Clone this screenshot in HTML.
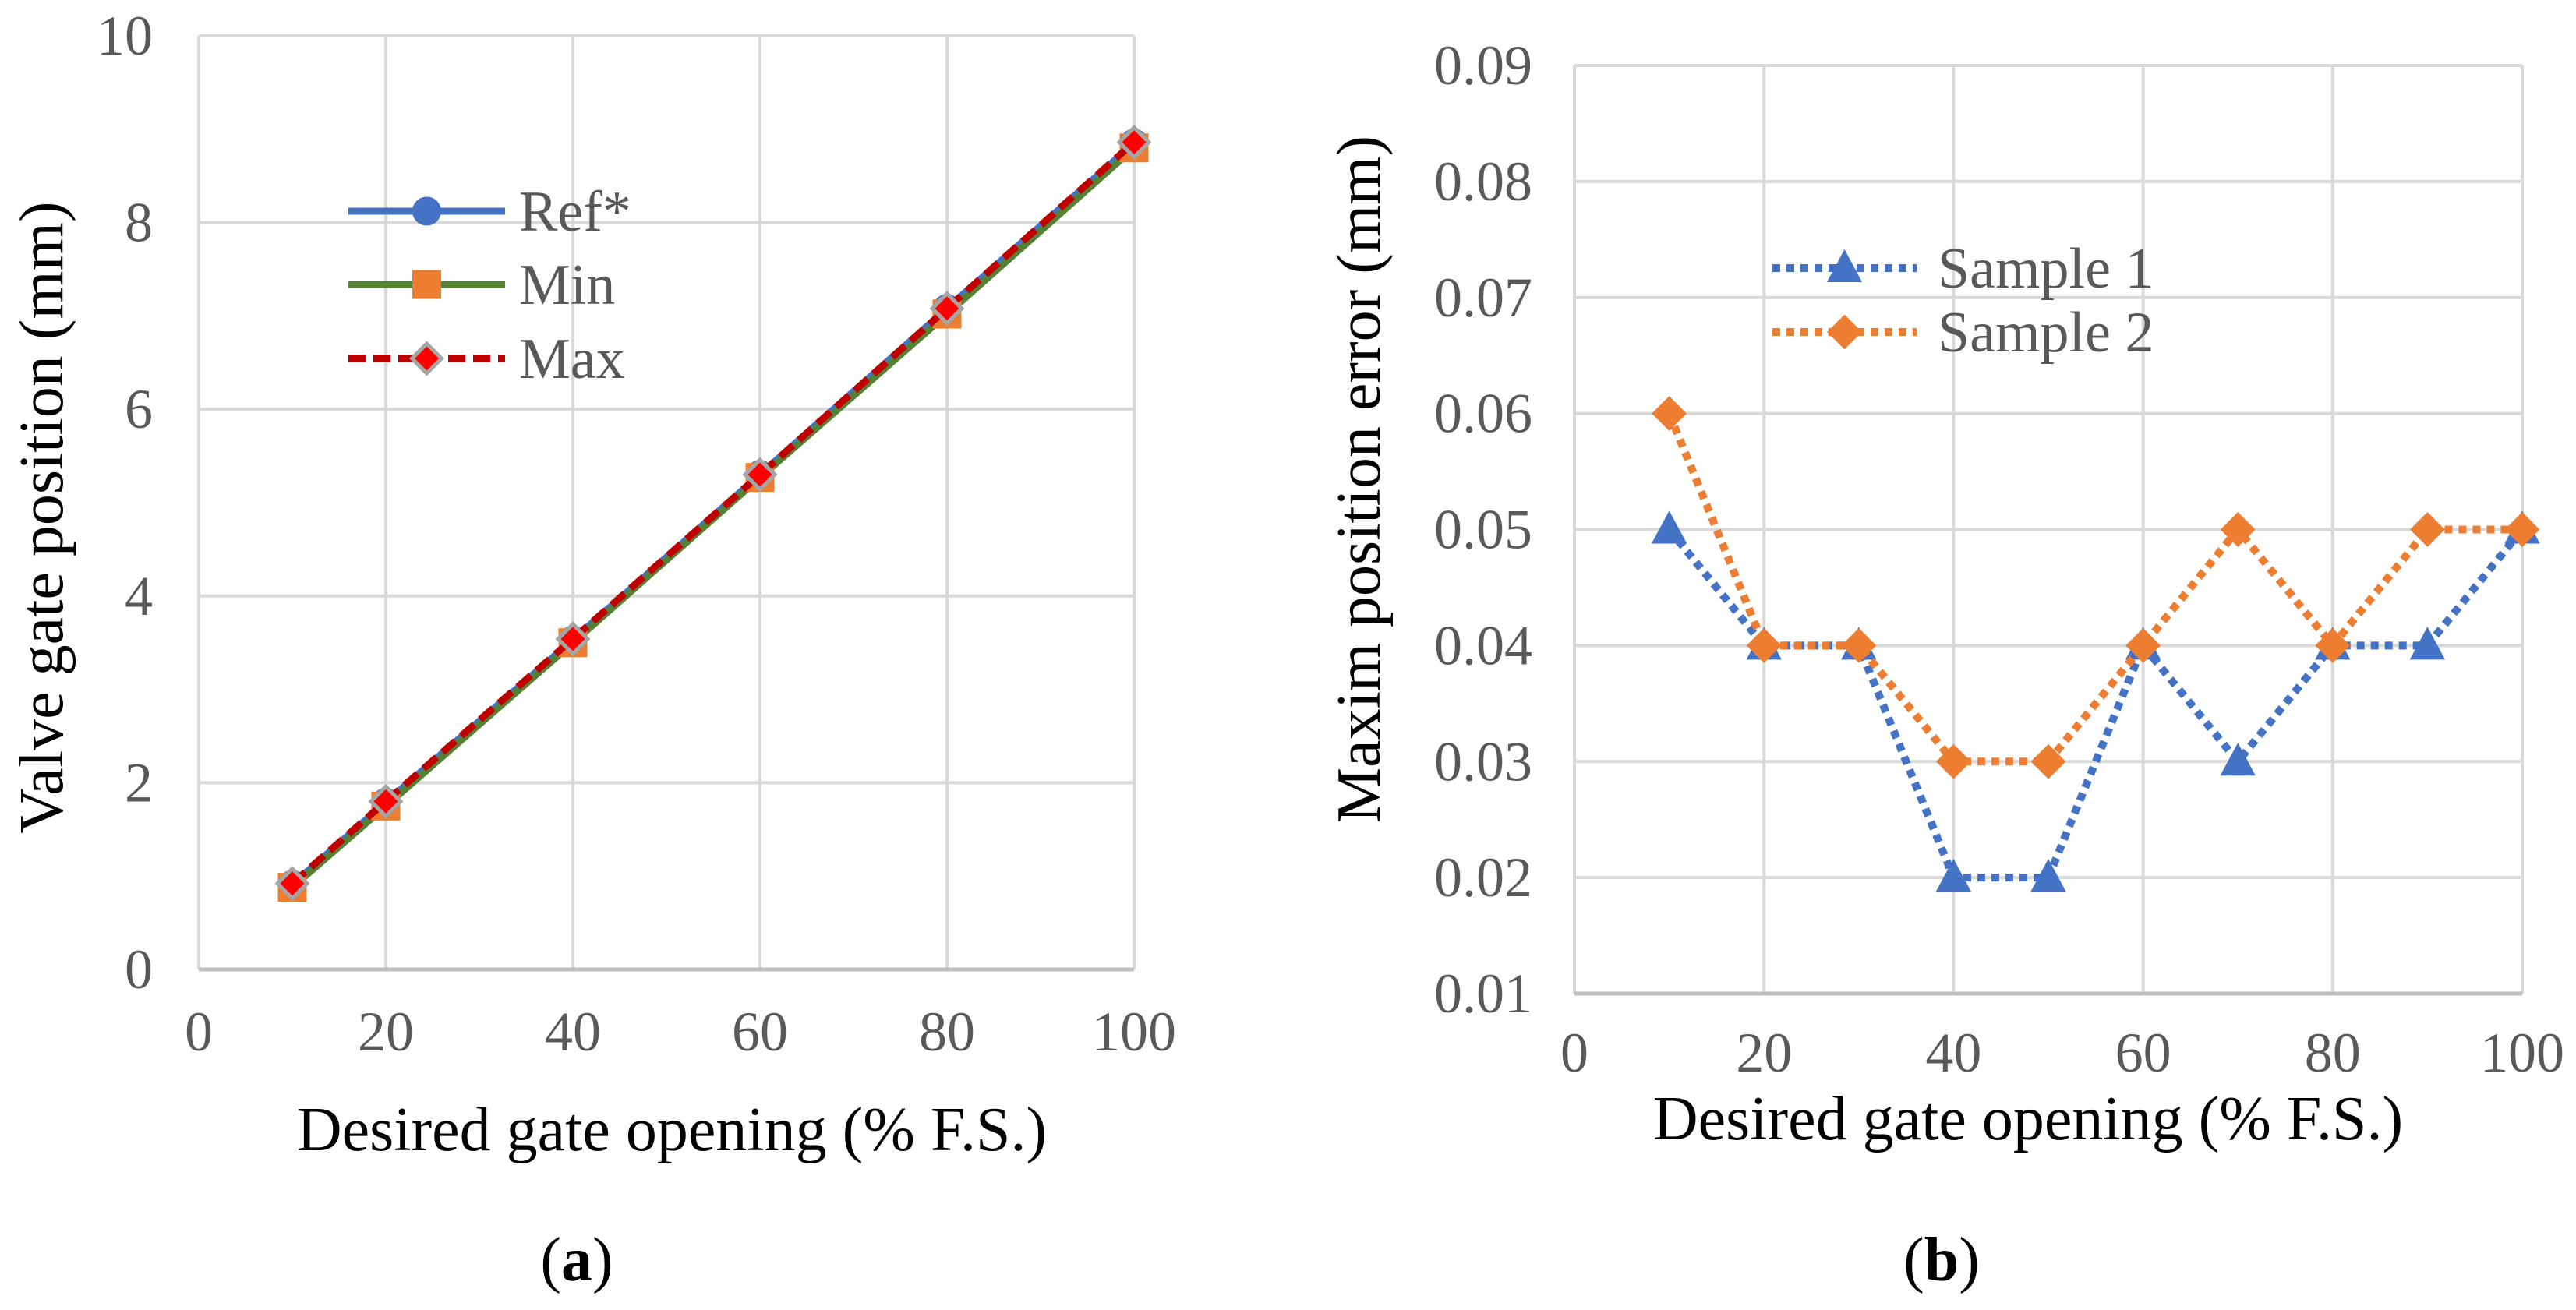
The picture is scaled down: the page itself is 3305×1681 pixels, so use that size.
<!DOCTYPE html>
<html><head><meta charset="utf-8"><style>
body{margin:0;background:#fff;}
svg{display:block;font-family:"Liberation Serif",serif;}
</style></head><body>
<svg id="s" width="3305" height="1681" viewBox="0 0 3305 1681"></svg>
<script>
const xA=[10,20,40,60,80,100];
const refA=[0.91,1.79,3.53,5.3,7.08,8.85];
const minA=[0.88,1.75,3.5,5.27,7.02,8.8];
const maxA=[0.92,1.8,3.54,5.3,7.08,8.86];
const xTicksA=[0,20,40,60,80,100];
const yTicksA=[0,2,4,6,8,10];
const xB=[10,20,30,40,50,60,70,80,90,100];
const s1B=[0.05,0.04,0.04,0.02,0.02,0.04,0.03,0.04,0.04,0.05];
const s2B=[0.06,0.04,0.04,0.03,0.03,0.04,0.05,0.04,0.05,0.05];
const xTicksB=[0,20,40,60,80,100];
const yTicksB=[0.01,0.02,0.03,0.04,0.05,0.06,0.07,0.08,0.09];

const NS='http://www.w3.org/2000/svg';
const svg=document.getElementById('s');
function el(t,a,p){const e=document.createElementNS(NS,t);for(const k in a)e.setAttribute(k,a[k]);(p||svg).appendChild(e);return e;}
function txt(s,a,p){a['font-family']='Liberation Serif, serif';const e=el('text',a,p);e.textContent=s;return e;}

function marker(g,type,x,y,fill,stroke){
  let m;
  if(type==='circle')m=el('circle',{cx:x,cy:y,r:17,fill:fill,stroke:stroke,'stroke-width':3},g);
  else if(type==='square')m=el('rect',{x:x-17,y:y-17,width:34,height:34,fill:fill,stroke:stroke,'stroke-width':3},g);
  else if(type==='diamond')m=el('polygon',{points:`${x},${y-19} ${x+19},${y} ${x},${y+19} ${x-19},${y}`,fill:fill,stroke:stroke,'stroke-width':5},g);
  else if(type==='diamondB')m=el('polygon',{points:`${x},${y-21} ${x+21},${y} ${x},${y+21} ${x-21},${y}`,fill:fill,stroke:stroke,'stroke-width':2},g);
  else m=el('polygon',{points:`${x},${y-22} ${x+21},${y+17} ${x-21},${y+17}`,fill:fill,stroke:stroke,'stroke-width':2},g);
  
  
  return m;
}

function chart(cfg){
  const g=el('g',{});
  const sx=v=>cfg.L+(v-cfg.xmin)/(cfg.xmax-cfg.xmin)*(cfg.R-cfg.L);
  const sy=v=>cfg.B-(v-cfg.ymin)/(cfg.ymax-cfg.ymin)*(cfg.B-cfg.T);
  const grid=el('g',{},g);
  cfg.yt.forEach(v=>{el('line',{x1:cfg.L,x2:cfg.R,y1:sy(v),y2:sy(v),stroke:'#d9d9d9','stroke-width':4},grid);});
  cfg.xt.forEach(v=>{el('line',{x1:sx(v),x2:sx(v),y1:cfg.T,y2:cfg.B,stroke:'#d9d9d9','stroke-width':4},grid);});
  el('line',{x1:cfg.L,x2:cfg.R,y1:cfg.B,y2:cfg.B,stroke:'#bfbfbf','stroke-width':5,},g);
  const yl=el('g',{},g);
  cfg.yt.forEach(v=>txt(cfg.yfmt(v),{x:cfg.ylx,y:sy(v)+24,'text-anchor':'end','font-size':72,fill:'#595959'},yl));
  const xl=el('g',{},g);
  cfg.xt.forEach(v=>txt(String(v),{x:sx(v),y:cfg.xly,'text-anchor':'middle','font-size':72,fill:'#595959'},xl));
  txt('Desired gate opening (% F.S.)',{x:cfg.xtx,y:cfg.xty,'text-anchor':'middle','font-size':80,fill:'#000',},g);
  txt(cfg.ytitle,{x:0,y:0,transform:`translate(${cfg.ytx},${cfg.yty}) rotate(-90)`,'text-anchor':'middle','font-size':80,fill:'#000',},g);
  const pl=txt('(',{x:cfg.px,y:1643,'text-anchor':'middle','font-size':80,},g);
  pl.textContent='';
  const t1=el('tspan',{},pl);t1.textContent='(';
  const t2=el('tspan',{'font-weight':'bold'},pl);t2.textContent=cfg.panel;
  const t3=el('tspan',{},pl);t3.textContent=')';
  cfg.series.forEach(s=>{
    const sg=el('g',{},g);
    const pts=cfg.xs.map((x,i)=>sx(x)+','+sy(s.vals[i])).join(' ');
    el('polyline',{points:pts,fill:'none',stroke:s.color,'stroke-width':s.w,'stroke-dasharray':s.dash||'', 'stroke-linecap':'butt'},sg);
    cfg.xs.forEach((x,i)=>marker(sg,s.mk,sx(x),sy(s.vals[i]),s.mf,s.ms));
    const lg=el('g',{},g);
    el('line',{x1:cfg.lgx1,x2:cfg.lgx2,y1:s.ly,y2:s.ly,stroke:s.color,'stroke-width':s.w,'stroke-dasharray':s.dash||''},lg);
    marker(lg,s.mk,(cfg.lgx1+cfg.lgx2)/2,s.ly,s.mf,s.ms);
    txt(s.label,{x:cfg.lgtx,y:s.ly+25,'font-size':74,fill:'#595959'},lg);
  });
}

chart({name:'chart-a',L:255,R:1455,T:46,B:1244,xmin:0,xmax:100,ymin:0,ymax:10,
  xt:xTicksA,yt:yTicksA,yfmt:v=>String(v),ylx:196,xly:1348,xtx:862,xty:1476,
  ytitle:'Valve gate position (mm)',ytx:80,yty:664,panel:'a',px:740,xs:xA,
  lgx1:447,lgx2:648,lgtx:666,
  series:[
    {name:'series-ref',label:'Ref*',vals:refA,color:'#4472c4',w:9,mk:'circle',mf:'#4472c4',ms:'#4472c4',ly:271},
    {name:'series-min',label:'Min',vals:minA,color:'#548235',w:9,mk:'square',mf:'#ed7d31',ms:'#ed7d31',ly:365},
    {name:'series-max',label:'Max',vals:maxA,color:'#c00000',w:9,dash:'22,10',mk:'diamond',mf:'#ff0000',ms:'#a5a5a5',ly:460}
  ]});

chart({name:'chart-b',L:2020,R:3236,T:84,B:1275,xmin:0,xmax:100,ymin:0.01,ymax:0.09,
  xt:xTicksB,yt:yTicksB,yfmt:v=>v.toFixed(2),ylx:1966,xly:1375,xtx:2602,xty:1462,
  ytitle:'Maxim position error (mm)',ytx:1770,yty:615,panel:'b',px:2491,xs:xB,
  lgx1:2274,lgx2:2459,lgtx:2486,
  series:[
    {name:'series-sample-1',label:'Sample 1',vals:s1B,color:'#4472c4',w:10,dash:'10,8',mk:'triangle',mf:'#4472c4',ms:'#4472c4',ly:344},
    {name:'series-sample-2',label:'Sample 2',vals:s2B,color:'#ed7d31',w:10,dash:'10,8',mk:'diamondB',mf:'#ed7d31',ms:'#ed7d31',ly:426}
  ]});
</script>
</body></html>
